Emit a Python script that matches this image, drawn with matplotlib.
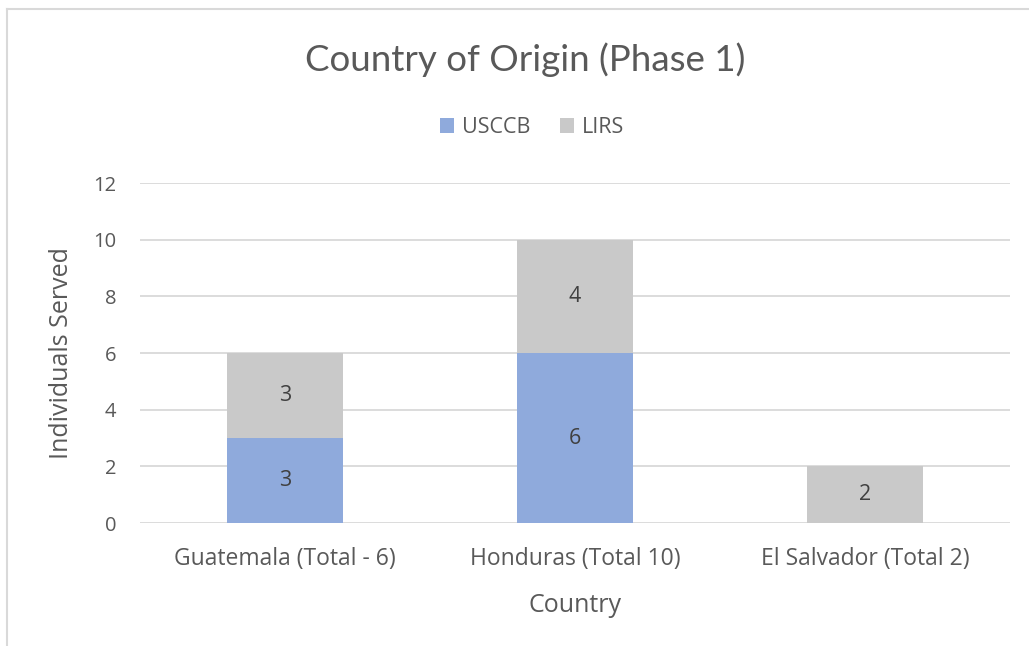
import matplotlib.pyplot as plt
import numpy as np

# data
countries = ["Guatemala (Total - 6)", "Honduras (Total 10)", "El Salvador (Total 2)"]
usccb = [3, 6, 0]
lirs = [3, 4, 2]
y_ticks = [0, 2, 4, 6, 8, 10, 12]

plt.rcParams['font.family'] = ['Open Sans', 'DejaVu Sans']
txt = '#595959'
blue = '#8faadc'
grey = '#c9c9c9'

fig = plt.figure(figsize=(10.29, 6.46), dpi=100)
ax = fig.add_axes([0.136, 0.1904, 0.8455, 0.5263])

x = np.arange(len(countries))
b1 = ax.bar(x, usccb, width=0.4, color=blue, label='USCCB', zorder=2)
b2 = ax.bar(x, lirs, width=0.4, bottom=usccb, color=grey, label='LIRS', zorder=2)

# data labels, skip empty segments
for bars, vals, base in [(b1, usccb, [0] * 3), (b2, lirs, usccb)]:
    for xi, v, b in zip(x, vals, base):
        if v:
            ax.text(xi, b + v / 2, str(v), ha='center', va='center',
                    fontsize=15.5, color='#404040', zorder=3)

ax.set_xlim(-0.5, 2.5)
ax.set_ylim(0, 12)
ax.set_yticks(y_ticks)
ax.set_xticks(x)
ax.set_xticklabels(countries)
ax.tick_params(length=0, labelsize=14.5, labelcolor=txt)
ax.tick_params(axis='x', labelsize=16.5, pad=17)
ax.tick_params(axis='y', pad=17)
ax.grid(axis='y', color='#d9d9d9', linewidth=1.3, zorder=0)
for s in ax.spines.values():
    s.set_visible(False)

ax.set_xlabel('Country', fontsize=18, color=txt, labelpad=16)
ax.set_ylabel('Individuals Served', fontsize=18, color=txt, labelpad=14)

fig.text(0.51, 0.907, 'Country of Origin (Phase 1)', ha='center', va='center',
         fontsize=26.5, color=txt, family='Lato')
fig.legend(loc='center', bbox_to_anchor=(0.517, 0.803), ncol=2, frameon=False,
           fontsize=15.5, labelcolor=txt, handlelength=0.65, handleheight=0.7,
           handletextpad=0.35, columnspacing=1.4)

# chart border (top and left visible in the original)
fig.add_artist(plt.Line2D([0.007, 1.0], [0.986, 0.986], color='#d9d9d9', lw=1.5))
fig.add_artist(plt.Line2D([0.007, 0.007], [0.0, 0.986], color='#d9d9d9', lw=1.5))

fig.savefig('out.png', dpi=100)
